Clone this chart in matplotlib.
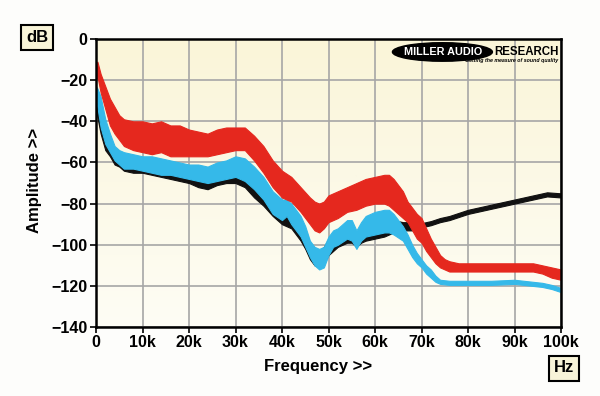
import numpy as np
import matplotlib
matplotlib.use("Agg")
import matplotlib.pyplot as plt
from matplotlib.patches import Ellipse

plt.rcParams['font.family'] = ['Liberation Sans', 'DejaVu Sans']

# frequencies in kHz, levels in dB (upper / lower edge of the noisy trace)
red_f = [0, 0.3, 1, 2, 3, 4, 5, 6, 8, 10, 12, 14, 16, 18, 20, 22, 24, 26, 28, 30,
         32, 34, 36, 38, 40, 42, 44, 46, 47, 48, 49, 50, 52, 54, 56, 58, 60, 62, 63,
         64, 66, 67, 68, 69, 70, 71, 72, 73, 74, 75, 76, 78, 80, 85, 90, 94, 96, 98, 100]
red_hi = [-12, -11, -17, -23, -29, -33, -37, -39, -40, -40, -41, -40, -42, -42, -44, -45,
          -46, -44, -43, -43, -43, -47, -52, -59, -64, -67, -72, -77, -79, -80, -79, -76,
          -74, -72, -70, -68, -67, -66, -66, -68, -74, -79, -82, -85, -87, -92, -97, -101,
          -105, -107, -108, -109, -109, -109, -109, -109, -110, -111, -112]
red_lo = [-20, -18, -26, -34, -42, -46, -49, -52, -54, -55, -56, -55, -57, -57, -57, -57,
          -57, -56, -55, -54, -54, -59, -65, -72, -77, -79, -84, -90, -93, -94, -92, -89,
          -87, -84, -83, -81, -80, -80, -81, -83, -87, -89, -93, -97, -99, -103, -106, -109,
          -111, -112, -113, -113, -113, -113, -113, -113, -114, -116, -117]

cyan_f = [0, 0.3, 1, 2, 3, 4, 5, 6, 8, 10, 12, 14, 16, 18, 20, 22, 24, 26, 28, 30, 32,
          34, 36, 38, 40, 41, 42, 44, 45, 46, 47, 48, 49, 50, 51, 52, 54, 55, 56, 57, 58,
          60, 62, 63, 64, 66, 67, 68, 69, 70, 71, 72, 73, 74, 76, 80, 85, 90, 94, 96, 98, 100]
cyan_hi = [-23, -24, -28, -39, -46, -52, -54, -55, -56, -57, -57, -58, -59, -60, -61, -61,
           -62, -60, -59, -57, -58, -62, -67, -74, -78, -78, -80, -86, -91, -98, -101, -102,
           -101, -96, -93, -92, -88, -88, -93, -89, -86, -84, -83, -83, -85, -91, -95, -100,
           -104, -107, -110, -112, -115, -117, -117.5, -117.5, -117.5, -117, -118, -118.5,
           -119.5, -121]
cyan_lo = [-30, -33, -43, -51, -55, -59, -61, -63, -63, -64, -65, -66, -66, -67, -68, -69,
           -70, -69, -68, -67, -69, -73, -78, -85, -88, -86, -90, -96, -101, -106, -110, -112,
           -111, -105, -101, -100, -97, -98, -102, -98, -96, -95, -94, -94, -95, -98, -102,
           -106, -109, -111, -114, -116, -118, -119, -119.5, -119.5, -119.5, -119, -120,
           -120.5, -121.5, -123]

black_f = [0, 0.3, 1, 2, 3, 4, 5, 6, 8, 10, 12, 14, 16, 18, 20, 22, 24, 26, 28, 30, 32,
           34, 36, 38, 40, 42, 44, 45, 46, 47, 48, 49, 50, 52, 54, 55, 56, 57, 58, 60, 62,
           63, 64, 66, 67, 68, 70, 72, 74, 76, 80, 85, 90, 94, 97, 100]
black_hi = [-26, -28, -33, -42, -48, -54, -56, -57, -58, -58, -59, -59, -61, -62, -63, -64,
            -65, -63, -62, -61, -61, -65, -70, -75, -80, -82, -88, -93, -99, -102, -103, -101,
            -97, -94, -91, -91, -94, -92, -90, -89, -88, -88, -88, -89, -89, -90, -89.5,
            -88.5, -87, -86, -83, -80.5, -78, -76, -74.5, -75]
black_lo = [-34, -38, -46, -54, -57, -61, -62, -64, -65, -65, -66, -67, -68, -69, -70, -72,
            -73, -71, -70, -70, -72, -77, -81, -86, -90, -92, -98, -102, -107, -110, -111,
            -109, -105, -101, -99, -99, -101, -99, -98, -97, -96, -95, -94, -93, -93, -93,
            -91.5, -90.5, -89, -88, -85, -82.5, -80, -78, -76.5, -77]

xticks = [0, 10, 20, 30, 40, 50, 60, 70, 80, 90, 100]
xlabels = ['0', '10k', '20k', '30k', '40k', '50k', '60k', '70k', '80k', '90k', '100k']
yticks = [0, -20, -40, -60, -80, -100, -120, -140]

fig = plt.figure(figsize=(6, 3.96), dpi=100, facecolor='#fdfdfb')
ax = fig.add_axes([0.16, 0.174, 0.775, 0.7275])

# cream gradient background
grad = np.linspace(0, 1, 256).reshape(-1, 1)
cmap = matplotlib.colors.LinearSegmentedColormap.from_list('bg', ['#faf5d8', '#fefdf5'])
ax.imshow(grad, extent=[0, 100, -140, 0], aspect='auto', cmap=cmap, zorder=0, origin='upper')

# noisy traces drawn as bands between their upper and lower edges
ax.fill_between(black_f, black_lo, black_hi, color='#111111', lw=0.8, zorder=3)
ax.fill_between(cyan_f, cyan_lo, cyan_hi, color='#35b9e9', lw=0.8, zorder=4)
ax.fill_between(red_f, red_lo, red_hi, color='#e5281e', lw=0.8, zorder=5)

ax.set_xlim(0, 100)
ax.set_ylim(-140, 0)
ax.set_xticks(xticks)
ax.set_xticklabels(xlabels)
ax.set_yticks(yticks)
ax.grid(True, color='#a6a6a6', lw=1.2, zorder=1)
ax.set_axisbelow(True)
for s in ax.spines.values():
    s.set_linewidth(1.8)
    s.set_color('black')
    s.set_zorder(6)
ax.tick_params(direction='out', length=4, width=1.2, labelsize=11.5, pad=2)
for lab in ax.get_xticklabels() + ax.get_yticklabels():
    lab.set_fontweight('bold')

fig.text(318 / 600, 1 - 366 / 396, 'Frequency >>', ha='center', va='center',
         fontsize=12, fontweight='bold')
fig.text(35 / 600, 1 - 180 / 396, 'Amplitude >>', ha='center', va='center',
         fontsize=12, fontweight='bold', rotation=90)
box = dict(boxstyle='square,pad=0.3', facecolor='#f8f4d8', edgecolor='black', lw=1.5)
fig.text(37 / 600, 1 - 37 / 396, 'dB', ha='center', va='center', fontsize=12,
         fontweight='bold', bbox=box)
fig.text(564 / 600, 1 - 368 / 396, 'Hz', ha='center', va='center', fontsize=12,
         fontweight='bold', bbox=box)

# logo
ax.add_patch(Ellipse((74.5, -6.3), 21.5, 9.0, color='black', zorder=7))
ax.text(74.6, -6.3, 'MILLER AUDIO', color='white', fontsize=7.8, fontweight='bold',
        ha='center', va='center', zorder=8)
ax.text(99.5, -6.3, 'RESEARCH', color='black', fontsize=8.3, fontweight='bold',
        ha='right', va='center', zorder=8)
ax.text(99.4, -10.6, 'Getting the measure of sound quality', color='black', fontsize=3.8,
        fontweight='bold', style='italic', ha='right', va='center', zorder=8)

fig.savefig('out.png', dpi=100, facecolor=fig.get_facecolor())
